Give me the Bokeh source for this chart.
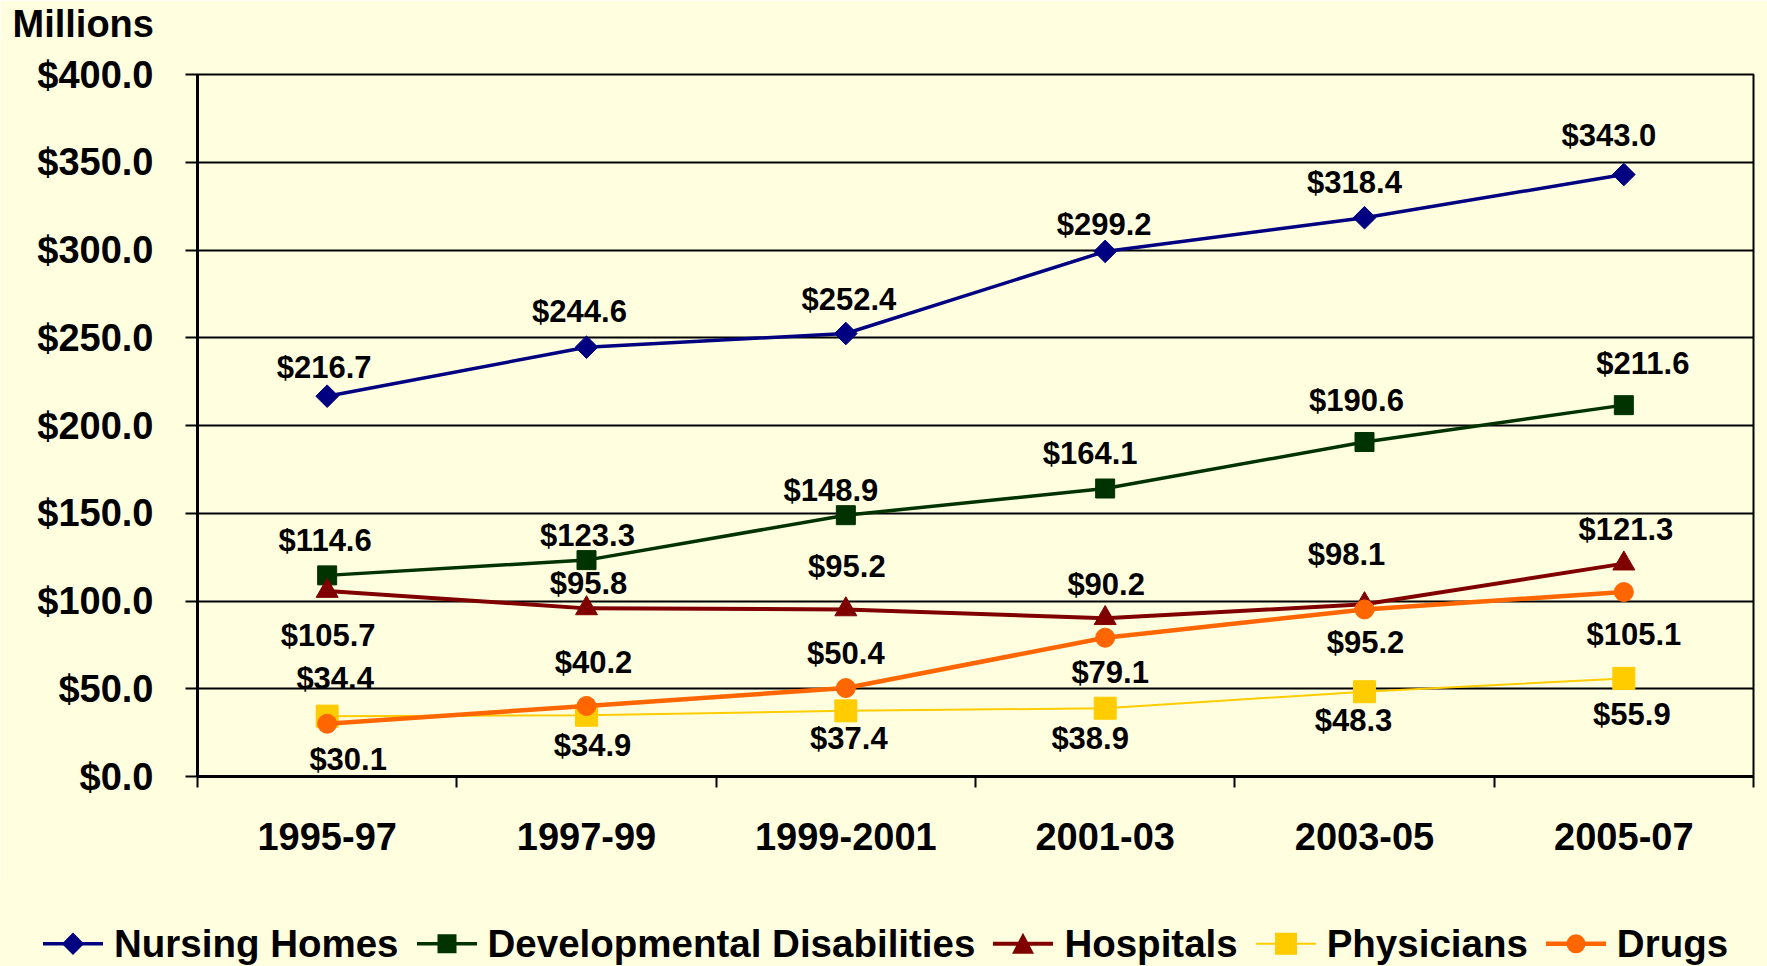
from bokeh.plotting import figure
from bokeh.layouts import column
from bokeh.models import (Range1d, FixedTicker, PrintfTickFormatter, ColumnDataSource,
                          Title, Div)
from bokeh.core.properties import value
from bokeh.embed import file_html
from bokeh.resources import INLINE
import numpy as np

periods = ["1995-97", "1997-99", "1999-2001", "2001-03", "2003-05", "2005-07"]
nursing_homes = [216.7, 244.6, 252.4, 299.2, 318.4, 343.0]
developmental = [114.6, 123.3, 148.9, 164.1, 190.6, 211.6]
hospitals = [105.7, 95.8, 95.2, 90.2, 98.1, 121.3]
physicians = [34.4, 34.9, 37.4, 38.9, 48.3, 55.9]
drugs = [30.1, 40.2, 50.4, 79.1, 95.2, 105.1]
y_ticks = [0, 50, 100, 150, 200, 250, 300, 350, 400]

# label offsets (screen px) for each series' data labels
label_dx = {
    "Nursing Homes": [-3, -7, 3, -1, -10, -15],
    "Developmental Disabilities": [-2, 1, -15, -15, -8, 19],
    "Hospitals": [1, 2, 1, 1, -18, 2],
    "Physicians": [8, 6, 3, -15, -11, 8],
    "Drugs": [21, 7, 0, 5, 1, 10],
}
label_dy = {
    "Nursing Homes": [-29, -36, -34, -27, -35, -39],
    "Developmental Disabilities": [-35, -25, -25, -35, -41, -42],
    "Hospitals": [45, -25, -43, -34, -50, -34],
    "Physicians": [-38, 30, 28, 30, 29, 36],
    "Drugs": [36, -43, -35, 35, 33, 42],
}

series = [
    ("Nursing Homes", nursing_homes, "#000080", 3.5, "square", 16, np.pi / 4),
    ("Developmental Disabilities", developmental, "#003300", 3.5, "square", 19, 0),
    ("Hospitals", hospitals, "#800000", 4, "triangle", 22, 0),
    ("Physicians", physicians, "#FFCC00", 2, "square", 22, 0),
    ("Drugs", drugs, "#FF6600", 4.5, "circle", 19, 0),
]

BG = "#FFFFE0"
FONT = "Liberation Sans"
W = 1767
CHART_H, LEG_H = 880, 86

p = figure(width=W, height=CHART_H, output_backend="svg", toolbar_location=None,
           x_range=Range1d(0, len(periods)), y_range=Range1d(0, 400),
           min_border_left=197, min_border_right=14, min_border_top=74, min_border_bottom=104)
p.background_fill_color = BG
p.border_fill_color = BG
p.outline_line_color = "black"
p.outline_line_width = 2

xs = [i + 0.5 for i in range(len(periods))]

p.xaxis.ticker = FixedTicker(ticks=xs, minor_ticks=list(range(len(periods) + 1)))
p.xaxis.major_label_overrides = {x: lab for x, lab in zip(xs, periods)}
p.xaxis.major_tick_out = 0
p.xaxis.major_tick_in = 0
p.xaxis.minor_tick_out = 11
p.xaxis.minor_tick_in = 0
p.xaxis.minor_tick_line_color = "black"
p.xaxis.minor_tick_line_width = 2
p.xaxis.axis_line_color = "black"
p.xaxis.axis_line_width = 3
p.xaxis.major_label_standoff = 35
p.xaxis.major_label_text_font = FONT
p.xaxis.major_label_text_font_style = "bold"
p.xaxis.major_label_text_font_size = "38px"
p.xaxis.major_label_text_color = "black"

p.yaxis.ticker = FixedTicker(ticks=y_ticks)
p.yaxis.formatter = PrintfTickFormatter(format="$%.1f")
p.yaxis.major_tick_out = 12
p.yaxis.major_tick_in = 0
p.yaxis.major_tick_line_width = 2
p.yaxis.major_tick_line_color = "black"
p.yaxis.minor_tick_line_color = None
p.yaxis.axis_line_color = "black"
p.yaxis.axis_line_width = 3
p.yaxis.major_label_standoff = 32
p.yaxis.major_label_text_font = FONT
p.yaxis.major_label_text_font_style = "bold"
p.yaxis.major_label_text_font_size = "38px"
p.yaxis.major_label_text_color = "black"

p.xgrid.grid_line_color = None
p.ygrid.ticker = FixedTicker(ticks=y_ticks)
p.ygrid.grid_line_color = "black"
p.ygrid.grid_line_width = 2

for name, vals, color, lw, marker, size, angle in series:
    src = ColumnDataSource(dict(
        x=xs, y=vals,
        label=[f"${v:.1f}" for v in vals],
        dx=label_dx[name], dy=label_dy[name],
    ))
    p.line("x", "y", source=src, line_color=color, line_width=lw)
    p.scatter("x", "y", source=src, marker=marker, size=size, angle=angle,
              fill_color=color, line_color=color)
    p.text("x", "y", text="label", source=src, x_offset="dx", y_offset="dy",
           text_align="center", text_baseline="middle",
           text_font=value(FONT), text_font_style="bold", text_font_size="31px",
           text_color="black")

# spacer (closest to the frame) and the unit caption above it
p.add_layout(Title(text=" ", text_font_size="20px", standoff=6), "above")
p.add_layout(Title(text="Millions", align="left", offset=-185, standoff=0,
                   text_font=FONT, text_font_style="bold", text_font_size="38px",
                   text_color="black"), "above")


# legend strip (key symbols mirror each series' line colour/width and marker)
def key_symbol(color, lw, marker, size, angle):
    cx, cy = 30, 15
    if marker == "circle":
        m = f'<circle cx="{cx}" cy="{cy}" r="{size / 2}" fill="{color}"/>'
    elif marker == "triangle":
        h = size * 0.9
        m = (f'<polygon points="{cx},{cy - h / 2 - 1} {cx + size / 2},{cy + h / 2} '
             f'{cx - size / 2},{cy + h / 2}" fill="{color}"/>')
    elif angle:
        r = size * 0.7
        m = (f'<polygon points="{cx},{cy - r} {cx + r},{cy} {cx},{cy + r} {cx - r},{cy}" '
             f'fill="{color}"/>')
    else:
        m = (f'<rect x="{cx - size / 2}" y="{cy - size / 2}" width="{size}" height="{size}" '
             f'fill="{color}"/>')
    return (f'<svg width="60" height="30" style="display:block;flex:none">'
            f'<line x1="0" y1="{cy}" x2="60" y2="{cy}" stroke="{color}" stroke-width="{lw}"/>'
            f'{m}</svg>')


entries = "".join(
    f'<div style="display:flex;align-items:center;margin-right:18px;flex:none">'
    f'{key_symbol(color, lw, marker, size, angle)}'
    f'<span style="margin-left:11px">{name}</span></div>'
    for name, vals, color, lw, marker, size, angle in series
)
legend_html = (
    f'<div style="position:relative;width:{W}px;height:{LEG_H}px;background:{BG};'
    f'overflow:hidden">'
    f'<div style="position:absolute;left:43px;top:64px;transform:translateY(-50%);'
    f'display:flex;align-items:center;white-space:nowrap;font-family:\'{FONT}\';'
    f'font-weight:bold;font-size:38.5px;line-height:1;color:black">{entries}</div></div>'
)
legend_div = Div(text=legend_html, width=W, height=LEG_H, margin=(0, 0, 0, 0),
                 styles={"background-color": BG})

layout = column(p, legend_div, spacing=0, margin=(0, 0, 0, 0))
open("out.html", "w").write(file_html(layout, INLINE))
